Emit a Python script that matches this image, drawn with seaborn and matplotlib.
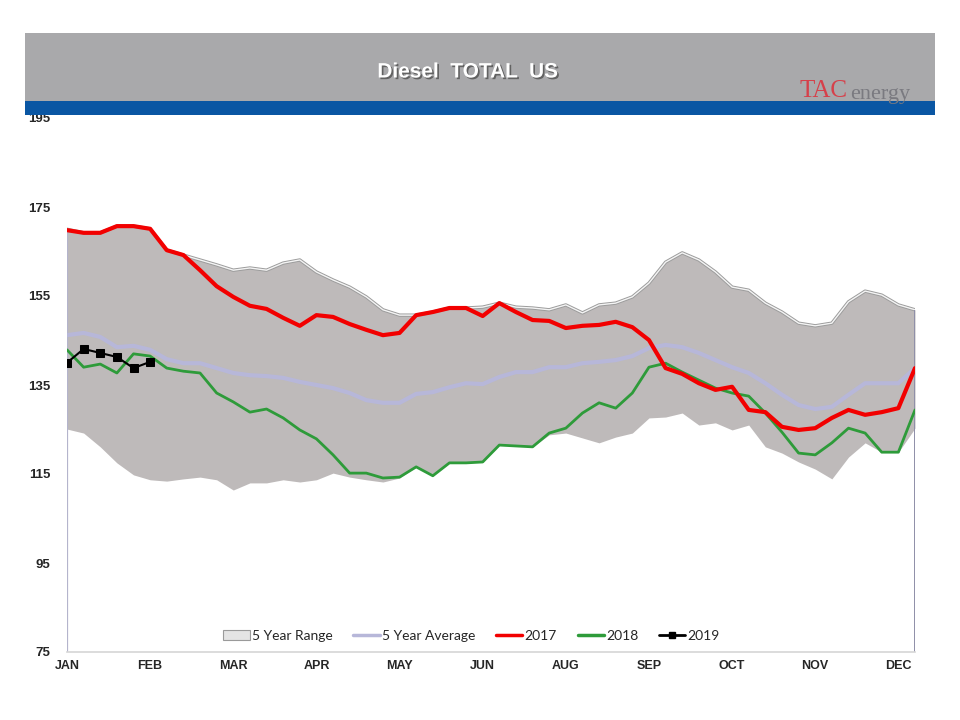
import numpy as np
import pandas as pd
import matplotlib
matplotlib.use("Agg")
import matplotlib.pyplot as plt
import matplotlib.patheffects as pe
from matplotlib.patches import Rectangle, Patch
from matplotlib.lines import Line2D
import seaborn as sns

# ---------------- data ----------------
month_labels = ["JAN", "FEB", "MAR", "APR", "MAY", "JUN", "AUG", "SEP", "OCT", "NOV", "DEC"]
month_ticks = [0, 5, 10, 15, 20, 25, 30, 35, 40, 45, 50]
y_ticks = [75, 95, 115, 135, 155, 175, 195]

range_upper = [170.0, 169.2, 169.2, 170.7, 170.7, 170.1, 165.3, 164.2, 163.1, 162.0,
               160.8, 161.3, 160.8, 162.4, 163.1, 160.4, 158.6, 157.0, 154.8, 151.9,
               150.7, 150.7, 151.4, 152.3, 152.3, 152.5, 153.4, 152.5, 152.3, 151.9,
               153.0, 151.2, 153.0, 153.4, 154.8, 157.9, 162.6, 164.7, 163.1, 160.4,
               157.0, 156.3, 153.4, 151.4, 148.9, 148.3, 148.9, 153.7, 156.1, 155.2,
               153.0, 151.9]
range_lower = [125.1, 124.2, 121.1, 117.5, 114.8, 113.7, 113.4, 113.9, 114.3, 113.7,
               111.4, 113.0, 113.0, 113.7, 113.2, 113.7, 115.2, 114.3, 113.7, 113.2,
               114.1, 116.6, 114.6, 117.5, 117.5, 117.7, 121.5, 121.3, 121.1, 123.8,
               124.2, 123.1, 122.0, 123.3, 124.2, 127.6, 127.8, 128.7, 126.0, 126.5,
               124.9, 126.0, 121.1, 119.7, 117.7, 116.1, 113.9, 118.8, 122.0, 119.9,
               119.9, 125.3]
avg_5yr = [146.2, 146.7, 145.8, 143.5, 143.8, 142.9, 140.8, 139.9, 139.9, 138.8,
           137.7, 137.2, 137.0, 136.6, 135.7, 135.0, 134.3, 133.2, 131.6, 131.0,
           131.0, 133.0, 133.4, 134.5, 135.4, 135.2, 136.8, 137.9, 137.9, 139.0,
           139.0, 139.9, 140.2, 140.6, 141.5, 143.3, 144.0, 143.5, 142.2, 140.6,
           139.0, 137.7, 135.4, 132.8, 130.5, 129.6, 130.1, 132.8, 135.4, 135.4,
           135.4, 138.8]
y2017 = [169.8, 169.2, 169.2, 170.7, 170.7, 170.1, 165.3, 164.2, 160.8, 157.2,
         154.8, 152.8, 152.1, 150.1, 148.3, 150.7, 150.3, 148.7, 147.4, 146.2,
         146.7, 150.7, 151.4, 152.3, 152.3, 150.5, 153.4, 151.4, 149.6, 149.4,
         147.8, 148.3, 148.5, 149.2, 148.0, 145.1, 138.8, 137.5, 135.4, 133.9,
         134.6, 129.4, 128.9, 125.6, 124.9, 125.3, 127.6, 129.4, 128.3, 128.9,
         129.8, 138.8]
y2018 = [142.9, 139.0, 139.7, 137.7, 142.0, 141.5, 138.8, 138.1, 137.7, 133.2,
         131.2, 128.9, 129.6, 127.6, 124.9, 122.9, 119.3, 115.2, 115.2, 114.1,
         114.3, 116.6, 114.6, 117.5, 117.5, 117.7, 121.5, 121.3, 121.1, 124.2,
         125.3, 128.7, 131.0, 129.8, 133.2, 139.0, 139.9, 137.9, 136.1, 134.3,
         133.2, 132.5, 128.7, 124.4, 119.7, 119.3, 122.0, 125.3, 124.2, 119.9,
         119.9, 129.4]
y2019 = [140.0, 143.1, 142.2, 141.3, 138.8, 140.2]

weeks = np.arange(len(range_upper))

# ---------------- figure ----------------
sns.set_style("white")
plt.rcParams["font.family"] = ["Liberation Sans", "DejaVu Sans"]

fig = plt.figure(figsize=(9.6, 7.2), dpi=100)
W, H = 960, 720

def fx(px):
    return px / W

def fy(py):
    return 1 - py / H

# header bar
fig.patches.append(Rectangle((fx(25), fy(101)), fx(910), 68 / H, transform=fig.transFigure,
                             facecolor="#A9A9AB", edgecolor="none", zorder=0))
fig.patches.append(Rectangle((fx(25), fy(115)), fx(910), 14 / H, transform=fig.transFigure,
                             facecolor="#0A56A3", edgecolor="none", zorder=0))
fig.text(fx(468), fy(72), "Diesel  TOTAL  US", ha="center", va="center", color="white",
         fontsize=15, fontweight="bold",
         path_effects=[pe.withSimplePatchShadow(offset=(1.2, -1.2), shadow_rgbFace="#505050", alpha=0.8)])
fig.text(fx(799), fy(91), "TAC", ha="left", va="center", color="#D6404A", fontsize=18,
         family=["Liberation Serif", "DejaVu Serif"])
fig.text(fx(850), fy(95), "energy", ha="left", va="center", color="#7A7A80", fontsize=16,
         family=["Liberation Serif", "DejaVu Serif"])

ax = fig.add_axes([fx(67), fy(652), 848 / W, 534 / H])
ax.set_facecolor("none")

# 5 year range band
ax.fill_between(weeks, range_lower, range_upper, color="#BEBABA", linewidth=0, zorder=1)
ax.plot(weeks, range_upper, color="#9C9C9C", lw=2.4, zorder=1.5, solid_joinstyle="round")
ax.plot(weeks, range_upper, color="#F4F4F4", lw=1.0, zorder=1.6, solid_joinstyle="round")
ax.vlines([weeks[0]], 75, range_upper[0], color="#B4B4CC", lw=1.6, zorder=1.7)
ax.vlines([weeks[-1]], 75, range_upper[-1], color="#8E8EA8", lw=1.4, zorder=1.7)

sns.lineplot(x=weeks, y=avg_5yr, ax=ax, color="#B7B7D9", lw=3, zorder=2)
sns.lineplot(x=weeks, y=y2018, ax=ax, color="#2E9B3A", lw=2, zorder=3)
sns.lineplot(x=weeks, y=y2017, ax=ax, color="#F20000", lw=3, zorder=4)
sns.lineplot(x=weeks[:len(y2019)], y=y2019, ax=ax, color="black", lw=1.5, marker="s",
             markersize=6, markeredgecolor="black", zorder=5)

ax.set_xlim(0, 51)
ax.set_ylim(75, 195)
ax.set_xticks(month_ticks)
ax.set_xticklabels(month_labels)
ax.set_yticks(y_ticks)
ax.set_yticklabels([str(v) for v in y_ticks])
ax.set_xlabel("")
ax.set_ylabel("")
for lab in ax.get_xticklabels():
    lab.set_fontweight("bold")
    lab.set_fontsize(9)
for lab in ax.get_yticklabels():
    lab.set_fontweight("bold")
    lab.set_fontsize(9.5)
ax.tick_params(axis="y", length=0, pad=12)
ax.tick_params(axis="x", length=0, pad=6)
for s in ["top", "right", "left"]:
    ax.spines[s].set_visible(False)
ax.spines["bottom"].set_color("#D6D6D6")
ax.spines["bottom"].set_linewidth(1.2)

handles = [
    Patch(facecolor="#E4E4E4", edgecolor="#9A9A9A", linewidth=0.8),
    Line2D([], [], color="#B7B7D9", lw=2.5),
    Line2D([], [], color="#F20000", lw=2.5),
    Line2D([], [], color="#2E9B3A", lw=2.5),
    Line2D([], [], color="black", lw=2, marker="s", markersize=5),
]
labels = ["5 Year Range", "5 Year Average", "2017", "2018", "2019"]
leg = ax.legend(handles, labels, loc="center", bbox_to_anchor=(0.477, 0.03), ncol=5,
                frameon=False, handlelength=1.9, handletextpad=0.15,
                columnspacing=1.5, prop={"family": ["Lato", "DejaVu Sans"], "size": 10})

fig.savefig("out.png", dpi=100)
